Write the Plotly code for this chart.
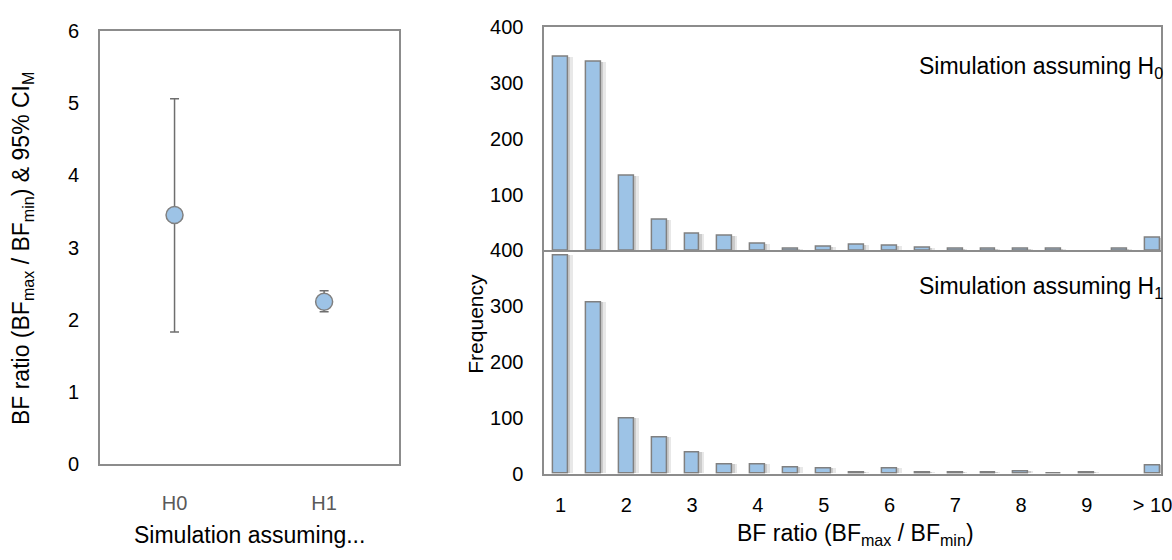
import plotly.graph_objects as go

# ---------------- data ----------------
sim_labels = ["H0", "H1"]
bf_ratio_mean = [3.45, 2.25]
ci_upper = [5.06, 2.40]
ci_lower = [1.83, 2.11]

bins = ["1", "1.5", "2", "2.5", "3", "3.5", "4", "4.5", "5", "5.5",
        "6", "6.5", "7", "7.5", "8", "8.5", "9", "9.5", "> 10"]
freq_h0 = [346, 338, 134, 55, 29, 26, 11, 3, 6, 10, 8, 5, 3.5, 3, 3, 3, 0, 3, 23]
freq_h1 = [391, 307, 100, 66, 38, 17, 16, 12, 9, 3, 9, 3, 3, 3, 4.6, 1, 3, 0, 15]
bin_ticks = ["1", "2", "3", "4", "5", "6", "7", "8", "9", "> 10"]

# ---------------- style ----------------
W, H = 1172, 560
FONT = "Liberation Sans, Arial, Helvetica, sans-serif"
AX = "#8c8c8c"
FILL = "#9dc3e6"
EDGE = "#808080"
TICK = 20
TITLE = 23

def px_x(p):
    return p / W

def px_y(p):
    return 1 - p / H

fig = go.Figure()

# ---------------- left panel ----------------
err_plus = [u - m for u, m in zip(ci_upper, bf_ratio_mean)]
err_minus = [m - l for m, l in zip(bf_ratio_mean, ci_lower)]
fig.add_trace(go.Scatter(
    x=sim_labels, y=bf_ratio_mean, mode="markers",
    marker=dict(size=17, color=FILL, line=dict(color=EDGE, width=1.5)),
    error_y=dict(type="data", array=err_plus, arrayminus=err_minus,
                 color="#6e6e6e", thickness=1.5, width=4.5),
    xaxis="x", yaxis="y", showlegend=False))

# ---------------- right panels ----------------
bar_w = 0.45
for freqs, xa, ya in [(freq_h0, "x2", "y2"), (freq_h1, "x3", "y3")]:
    yvals = [v if v > 0 else None for v in freqs]  # empty bins draw nothing
    fig.add_trace(go.Bar(
        x=bins, y=yvals, width=0.3, offset=-0.225 + 0.3,
        marker=dict(color="rgba(0,0,0,0.09)", line=dict(width=0)),
        xaxis=xa, yaxis=ya, showlegend=False, hoverinfo="skip"))
    fig.add_trace(go.Bar(
        x=bins, y=yvals, width=0.3, offset=-0.225 + 0.22,
        marker=dict(color="rgba(0,0,0,0.12)", line=dict(width=0)),
        xaxis=xa, yaxis=ya, showlegend=False, hoverinfo="skip"))
    fig.add_trace(go.Bar(
        x=bins, y=yvals, width=bar_w,
        marker=dict(color=FILL, line=dict(color=EDGE, width=1.5)),
        xaxis=xa, yaxis=ya, showlegend=False))

tickfont = dict(family=FONT, size=TICK, color="#000000")
titlefont = dict(family=FONT, size=TITLE, color="#000000")

left_dom_x = [px_x(100.7), px_x(402.7)]
right_dom_x = [px_x(549.3), 1.0]
x_end = -0.5 + (1172 - 549.3) / 33.2

fig.update_layout(
    width=W, height=H,
    margin=dict(l=0, r=0, t=0, b=0),
    paper_bgcolor="white", plot_bgcolor="white",
    barmode="overlay", bargap=0,
    font=dict(family=FONT, size=TICK, color="#000000"),
    xaxis=dict(domain=left_dom_x, anchor="y", type="category",
               range=[-0.5, 1.5], showline=True, mirror=True,
               linecolor=AX, linewidth=1.5, showgrid=False, zeroline=False,
               ticks="outside", ticklen=20, tickcolor="rgba(0,0,0,0)",
               tickfont=dict(family=FONT, size=TICK, color="#595959")),
    yaxis=dict(domain=[px_y(471.7), px_y(20.7)], anchor="x",
               range=[0, 6], tickvals=[0, 1, 2, 3, 4, 5, 6],
               showline=True, mirror=True, linecolor=AX, linewidth=1.5,
               showgrid=False, zeroline=False,
               ticks="outside", ticklen=15, tickcolor="rgba(0,0,0,0)",
               tickfont=tickfont),
    xaxis2=dict(domain=right_dom_x, anchor="y2", type="category",
                range=[-0.5, x_end], showline=True, mirror=True,
                linecolor=AX, linewidth=1.5, showgrid=False, zeroline=False,
                showticklabels=False, ticks=""),
    yaxis2=dict(domain=[px_y(249.2), px_y(16.5)], anchor="x2",
                range=[0, 400], tickvals=[100, 200, 300, 400],
                showline=True, mirror=True, linecolor=AX, linewidth=1.5,
                showgrid=False, zeroline=False,
                ticks="outside", ticklen=15, tickcolor="rgba(0,0,0,0)",
                tickfont=tickfont),
    xaxis3=dict(domain=right_dom_x, anchor="y3", type="category",
                range=[-0.5, x_end], showline=True, mirror=False,
                linecolor=AX, linewidth=1.5, showgrid=False, zeroline=False,
                tickmode="array", tickvals=bin_ticks, ticktext=bin_ticks,
                ticks="outside", ticklen=12, tickcolor="rgba(0,0,0,0)",
                tickfont=tickfont),
    yaxis3=dict(domain=[px_y(481.7), px_y(249.2)], anchor="x3",
                range=[0, 400], tickvals=[0, 100, 200, 300, 400],
                showline=True, mirror=True, linecolor=AX, linewidth=1.5,
                showgrid=False, zeroline=False,
                ticks="outside", ticklen=15, tickcolor="rgba(0,0,0,0)",
                tickfont=tickfont),
    annotations=[
        dict(text="BF ratio (BF<sub>max</sub> / BF<sub>min</sub>) & 95% CI<sub>M</sub>",
             xref="paper", yref="paper", x=px_x(23), y=px_y(247),
             xanchor="center", yanchor="middle", textangle=-90,
             showarrow=False, font=titlefont),
        dict(text="Simulation assuming...", xref="paper", yref="paper",
             x=px_x(252), y=px_y(545), xanchor="center", yanchor="middle",
             showarrow=False, font=titlefont),
        dict(text="BF ratio (BF<sub>max</sub> / BF<sub>min</sub>)",
             xref="paper", yref="paper", x=px_x(864), y=px_y(545),
             xanchor="center", yanchor="middle",
             showarrow=False, font=titlefont),
        dict(text="Simulation assuming H<sub>0</sub>", xref="paper", yref="paper",
             x=px_x(1176), y=px_y(59), xanchor="right", yanchor="middle",
             showarrow=False, font=titlefont),
        dict(text="Simulation assuming H<sub>1</sub>", xref="paper", yref="paper",
             x=px_x(1176), y=px_y(288), xanchor="right", yanchor="middle",
             showarrow=False, font=titlefont),
        dict(text="Frequency", xref="paper", yref="paper",
             x=px_x(480), y=px_y(325), xanchor="center", yanchor="middle",
             textangle=-90, showarrow=False,
             font=dict(family=FONT, size=21, color="#000000")),
    ],
)

fig.write_html("out.html")
